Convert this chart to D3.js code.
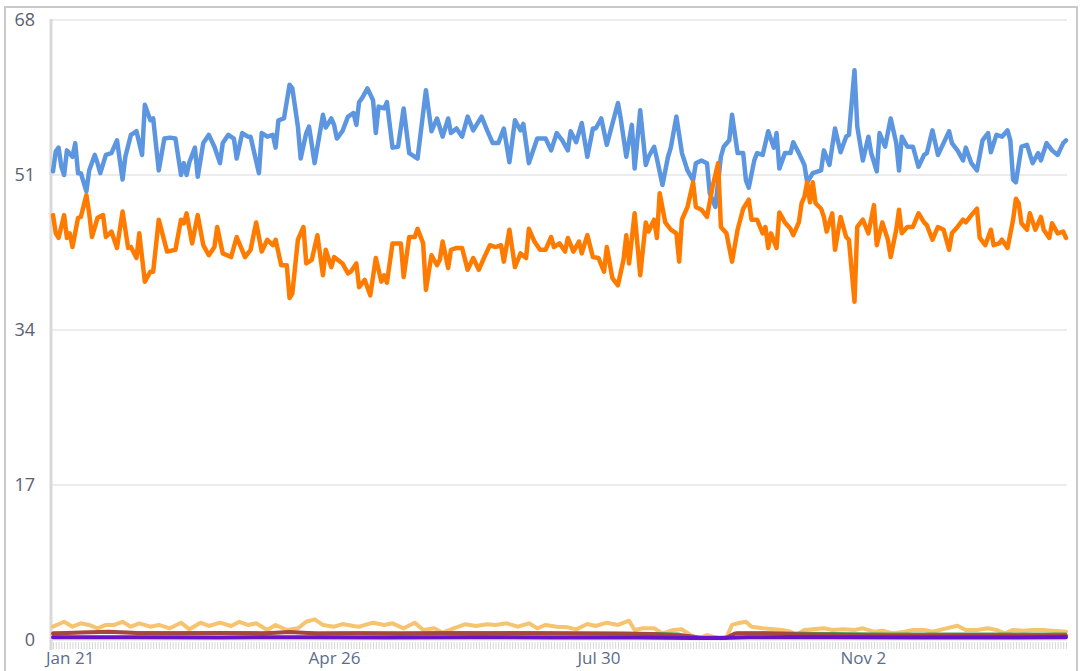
<!DOCTYPE html>
<html>
<head>
<meta charset="utf-8">
<script src="https://cdn.jsdelivr.net/npm/d3@7"></script>
<style>
  html, body { margin: 0; padding: 0; background: #fff; }
  svg { display: block; }
</style>
</head>
<body>
<svg id="chart" width="1081" height="671"></svg>
<script>
// ---- data -------------------------------------------------------------
// One year of daily readings, starting 15 Jan; each entry is [day offset, value].
const startDate = new Date(2019, 0, 15);
const dayCount = 365;
const yTicks = [0, 17, 34, 51, 68];
const xTickLabels = ["Jan 21", "Apr 26", "Jul 30", "Nov 2"];

const blueSeries = [
  [0,51.4],[1,53.6],[2,54.0],[3,51.9],[4,51.0],[5,53.7],[7,53.0],[8,54.5],[9,51.2],[10,51.2],
  [12,49.2],[13,51.5],[15,53.2],[16,52.3],[17,51.2],[19,53.2],[21,53.4],[23,54.8],[25,50.5],[26,53.0],
  [28,55.4],[29,55.6],[30,55.8],[32,53.2],[33,58.7],[35,57.0],[36,57.2],[38,51.5],[40,55.0],[42,55.1],
  [44,55.0],[46,51.0],[47,52.3],[48,51.0],[49,52.4],[51,54.0],[52,50.8],[54,54.5],[56,55.4],[58,54.1],
  [60,52.3],[61,54.5],[63,55.4],[65,55.0],[66,52.8],[68,55.6],[70,55.2],[71,55.2],[74,51.2],[75,55.6],
  [77,55.2],[79,55.4],[80,54.0],[81,57.0],[83,57.2],[85,60.9],[86,60.5],[88,56.3],[89,52.8],[91,55.6],
  [92,56.3],[94,52.3],[97,57.6],[98,56.2],[100,57.2],[101,56.5],[102,55.0],[104,55.8],[106,57.4],[107,57.6],
  [108,57.8],[109,56.5],[110,59.0],[111,59.4],[113,60.5],[115,59.2],[116,55.6],[117,58.5],[119,58.3],[120,59.0],
  [122,54.0],[124,54.1],[126,58.3],[128,53.4],[131,52.8],[134,60.3],[136,55.8],[138,57.2],[140,55.2],[142,57.2],
  [143,55.6],[145,56.1],[147,55.2],[149,57.4],[151,55.9],[154,57.4],[156,55.9],[158,54.5],[160,54.5],[162,56.1],
  [164,52.4],[166,57.0],[168,55.9],[169,56.6],[171,52.3],[174,55.0],[177,55.0],[179,53.7],[181,55.6],[183,54.8],
  [185,53.7],[186,55.8],[188,54.6],[190,56.7],[192,53.0],[194,56.1],[195,56.1],[197,57.2],[199,54.3],[203,58.9],
  [204,57.2],[206,53.0],[208,56.5],[209,51.7],[211,58.1],[213,52.1],[214,53.0],[216,54.1],[217,52.8],[219,49.9],
  [221,53.0],[222,54.0],[224,57.4],[226,53.4],[228,51.5],[230,50.4],[231,52.3],[233,52.6],[235,52.3],[236,49.0],
  [238,47.5],[240,53.0],[241,54.1],[243,54.8],[244,57.6],[246,53.4],[248,53.4],[249,50.4],[250,49.6],[252,52.6],
  [253,53.4],[255,53.2],[257,55.8],[259,54.0],[260,55.6],[261,51.7],[263,53.4],[265,53.4],[266,54.6],[268,53.4],
  [270,52.1],[271,50.2],[273,51.2],[276,51.5],[277,53.7],[279,52.1],[281,56.1],[283,53.5],[285,55.2],[286,55.4],
  [288,62.5],[289,56.3],[291,52.6],[293,55.2],[294,53.4],[296,51.4],[297,55.6],[299,54.1],[301,57.2],[303,54.5],
  [304,51.5],[305,55.2],[307,54.1],[309,54.1],[311,51.9],[313,53.2],[314,53.4],[316,55.9],[318,53.2],[320,54.5],
  [322,55.8],[323,54.5],[325,53.7],[327,52.6],[328,54.0],[330,52.3],[332,51.5],[334,54.8],[336,55.6],[337,53.5],
  [339,55.4],[341,55.2],[343,55.9],[344,54.8],[345,50.5],[346,50.2],[348,54.1],[350,54.3],[352,52.3],[354,53.4],
  [355,52.6],[357,54.5],[359,53.7],[361,53.2],[363,54.5],[364,54.8]
];

const orangeSeries = [
  [0,46.6],[1,44.6],[2,44.1],[4,46.6],[5,44.1],[6,44.6],[7,43.1],[9,46.3],[10,46.4],[12,48.8],
  [13,46.8],[14,44.2],[16,46.3],[18,46.6],[19,44.2],[21,44.8],[23,43.0],[25,47.0],[27,43.0],[28,43.1],
  [30,41.9],[31,44.6],[33,39.3],[35,40.4],[36,40.4],[38,46.1],[41,42.6],[44,42.8],[46,46.1],[47,45.7],
  [48,46.8],[50,43.5],[52,46.6],[54,43.3],[56,42.2],[58,43.1],[59,45.3],[61,42.4],[64,42.0],[66,44.2],
  [69,42.0],[71,42.8],[73,45.8],[75,42.6],[77,43.9],[79,43.3],[80,43.9],[82,41.1],[84,41.1],[85,37.5],
  [86,38.0],[88,43.9],[90,45.3],[91,41.3],[93,41.7],[95,44.4],[97,40.0],[98,42.8],[100,40.9],[101,42.0],
  [104,41.3],[106,40.2],[107,40.4],[109,41.3],[110,38.7],[112,39.5],[114,37.8],[116,41.9],[118,39.3],[119,40.0],
  [120,39.2],[122,43.5],[125,43.5],[126,39.8],[128,44.2],[130,44.2],[131,45.1],[133,43.5],[134,38.4],[136,42.2],
  [138,41.1],[139,41.7],[140,43.7],[142,40.8],[143,42.8],[145,43.0],[147,43.0],[149,40.6],[151,41.9],[153,40.6],
  [155,42.0],[157,43.3],[159,43.1],[161,43.3],[162,41.5],[164,45.0],[166,40.9],[168,42.4],[170,41.9],[171,45.1],
  [173,43.7],[175,42.8],[177,42.8],[179,44.2],[180,43.1],[182,43.5],[184,42.6],[185,44.1],[187,42.6],[189,43.7],
  [190,42.4],[192,44.4],[194,42.0],[196,41.9],[198,40.4],[199,43.1],[201,39.7],[203,38.9],[205,41.7],[206,44.4],
  [207,41.3],[209,46.8],[211,40.0],[213,45.8],[214,44.8],[216,46.1],[217,44.1],[218,49.0],[220,45.8],[222,45.0],
  [224,44.6],[225,41.5],[226,46.1],[228,47.5],[230,50.2],[231,47.5],[233,47.2],[235,46.4],[237,49.7],[239,52.3],
  [240,45.3],[242,44.6],[244,41.5],[246,45.0],[248,47.3],[250,48.3],[251,46.1],[253,46.1],[255,44.6],[256,45.3],
  [257,43.0],[258,44.6],[260,43.0],[261,46.9],[263,45.8],[265,45.1],[266,44.4],[268,45.8],[269,47.9],[270,48.6],
  [271,50.2],[272,48.0],[273,50.2],[274,47.9],[276,47.3],[277,46.4],[278,44.8],[280,46.8],[281,42.8],[283,46.4],
  [285,44.2],[286,43.9],[288,37.1],[289,45.3],[291,46.1],[293,44.6],[295,47.7],[296,43.3],[298,45.8],[300,43.9],
  [301,42.0],[303,45.0],[304,47.2],[305,44.6],[307,45.3],[309,45.3],[311,46.8],[313,45.8],[314,45.5],[316,43.9],
  [318,45.3],[320,45.0],[322,42.8],[323,44.6],[325,45.3],[327,46.1],[328,45.8],[330,46.6],[332,47.3],[333,44.1],
  [335,43.3],[337,45.0],[338,43.3],[340,43.5],[341,43.9],[343,43.0],[345,46.1],[346,48.4],[347,47.9],[348,45.7],
  [350,45.0],[351,46.8],[353,45.0],[355,46.4],[356,45.0],[358,44.1],[359,45.7],[361,44.6],[363,44.8],[364,44.1]
];

const yellowSeries = [
  [0,1.46],[4,2.0],[7,1.46],[10,1.83],[13,1.65],[16,1.28],[19,1.65],[22,1.65],[25,2.0],[28,1.46],
  [31,1.83],[35,1.46],[38,1.65],[42,1.28],[46,1.9],[49,1.17],[53,1.9],[56,1.54],[60,1.9],[64,1.54],
  [67,2.0],[70,1.65],[73,1.83],[77,1.1],[80,1.65],[84,1.1],[88,1.28],[91,2.0],[94,2.27],[97,1.65],
  [101,1.46],[104,1.75],[108,1.54],[110,1.46],[115,1.9],[119,1.65],[122,1.83],[126,1.28],[130,1.9],[133,1.1],
  [137,1.28],[140,0.8],[144,1.28],[148,1.72],[152,1.54],[156,1.72],[159,1.65],[163,1.83],[167,1.46],[171,1.83],
  [174,1.28],[177,1.65],[181,1.46],[185,1.39],[188,1.17],[192,1.75],[195,1.54],[199,1.9],[203,1.65],[207,2.12],
  [209,1.1],[212,1.28],[216,1.28],[219,0.73],[223,1.1],[226,1.17],[229,0.55],[232,0.18],[235,0.55],[237,0.37],
  [240,0.18],[242,0.29],[244,1.65],[246,1.83],[249,2.01],[251,1.46],[255,1.28],[259,1.17],[262,1.1],[265,0.91],
  [267,0.55],[270,1.1],[273,1.17],[277,1.28],[280,1.1],[284,1.17],[288,1.1],[291,1.28],[295,0.91],[298,1.02],
  [302,0.73],[306,0.91],[309,1.1],[313,1.1],[316,0.91],[321,1.28],[325,1.57],[328,1.1],[332,1.1],[336,1.28],
  [339,1.1],[342,0.73],[345,1.1],[349,1.02],[352,1.1],[356,1.1],[359,1.02],[364,0.91]
];

const greenSeries = [
  [0,0.82],[20,0.9],[45,0.85],[70,0.86],[95,0.82],[120,0.86],[150,0.88],[180,0.86],[205,0.82],[225,0.7],
  [232,0.3],[242,0.3],[246,0.86],[270,0.8],[300,0.72],[330,0.72],[364,0.72]
];

const brownSeries = [
  [0,0.72],[10,0.82],[20,0.9],[30,0.78],[45,0.74],[60,0.78],[75,0.72],[85,0.88],[95,0.72],[110,0.74],
  [125,0.68],[140,0.74],[155,0.72],[170,0.74],[185,0.72],[200,0.68],[215,0.66],[228,0.45],[233,0.25],[242,0.25],
  [245,0.72],[255,0.74],[270,0.6],[285,0.55],[300,0.5],[315,0.5],[330,0.52],[345,0.5],[364,0.5]
];

const purpleSeries = [
  [0,0.3],[30,0.3],[60,0.28],[90,0.3],[120,0.28],[150,0.3],[180,0.28],[210,0.28],[230,0.22],[240,0.22],
  [250,0.3],[280,0.3],[310,0.28],[340,0.28],[364,0.3]
];

// ---- layout ------------------------------------------------------------
const svg = d3.select("#chart");
const endDate = d3.timeDay.offset(startDate, dayCount - 1);
const x = d3.scaleTime().domain([startDate, endDate]).range([53, 1066]);
const y = d3.scaleLinear().domain([0, 68]).range([640, 20]);
const fontFamily = "'Open Sans', 'Segoe UI', sans-serif";

// outer frame
svg.append("rect")
  .attr("x", 5).attr("y", 7).attr("width", 1072).attr("height", 700)
  .attr("fill", "none").attr("stroke", "#c9c9c9").attr("stroke-width", 2);

// horizontal grid
svg.append("g").selectAll("line").data(yTicks).join("line")
  .attr("x1", 52).attr("x2", 1067)
  .attr("y1", d => y(d)).attr("y2", d => y(d))
  .attr("stroke", "#ececec").attr("stroke-width", 2);

// y labels
svg.append("g").selectAll("text").data(yTicks).join("text")
  .attr("x", 35).attr("y", d => y(d)).attr("dy", "0.35em")
  .attr("text-anchor", "end")
  .attr("font-family", fontFamily).attr("font-size", 18)
  .attr("fill", "#5a6070")
  .text(d => d);

// left axis line
svg.append("line")
  .attr("x1", 51).attr("x2", 51).attr("y1", 19).attr("y2", 650)
  .attr("stroke", "#d9d9d9").attr("stroke-width", 3);

// daily ticks along the bottom, labelled on a few dates
const fmt = d3.timeFormat("%b %-d");
const labelSet = new Set(xTickLabels);
const xAxis = d3.axisBottom(x)
  .tickValues(d3.timeDay.range(startDate, d3.timeDay.offset(endDate, 1)))
  .tickSize(7).tickPadding(3)
  .tickFormat(d => labelSet.has(fmt(d)) ? fmt(d) : "");
const gx = svg.append("g").attr("transform", "translate(0,642)").call(xAxis);
gx.select(".domain").remove();
gx.selectAll(".tick line").attr("stroke", "#d6d6d6").attr("stroke-width", 1);
gx.selectAll(".tick text")
  .attr("font-family", fontFamily).attr("font-size", 17).attr("fill", "#5b6d8c");

// series lines
const line = d3.line()
  .x(d => x(d3.timeDay.offset(startDate, d[0])))
  .y(d => y(d[1]));

const series = [
  { data: blueSeries,   color: "#5d96e0", width: 4.5 },
  { data: orangeSeries, color: "#ff7b00", width: 4.5 },
  { data: yellowSeries, color: "#f6c36e", width: 4 },
  { data: greenSeries,  color: "#4aa05a", width: 2 },
  { data: brownSeries,  color: "#a4473f", width: 4 },
  { data: purpleSeries, color: "#6a12c8", width: 4 }
];

svg.append("g").selectAll("path").data(series).join("path")
  .attr("d", s => line(s.data))
  .attr("fill", "none")
  .attr("stroke", s => s.color)
  .attr("stroke-width", s => s.width)
  .attr("stroke-linejoin", "round")
  .attr("stroke-linecap", "round");
</script>
</body>
</html>
